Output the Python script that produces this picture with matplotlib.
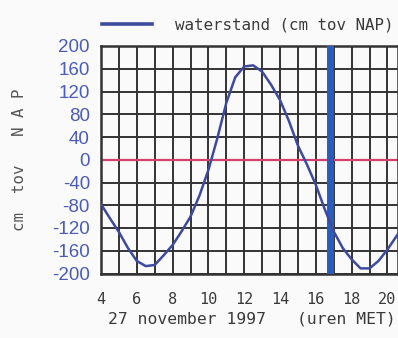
import matplotlib
matplotlib.use("Agg")
import matplotlib.pyplot as plt

hours = [4.0, 4.5, 5.0, 5.5, 6.0, 6.5, 7.0, 7.5, 8.0, 8.5, 9.0, 9.5, 10.0, 10.5,
         11.0, 11.5, 12.0, 12.5, 13.0, 13.5, 14.0, 14.5, 15.0, 15.5, 16.0, 16.5,
         17.0, 17.5, 18.0, 18.5, 19.0, 19.5, 20.0, 20.6]
waterstand = [-78, -103, -127, -155, -178, -187, -185, -168, -150, -126, -100, -63,
              -18, 38, 100, 145, 164, 166, 155, 132, 105, 68, 25, -8, -44, -87,
              -126, -155, -175, -191, -191, -178, -158, -130]
now_hour = 16.8
y_ticks = [200, 160, 120, 80, 40, 0, -40, -80, -120, -160, -200]
x_ticks = list(range(4, 21))
x_labels = [str(h) if h % 2 == 0 else "" for h in x_ticks]

W, H = 398, 338
fig = plt.figure(figsize=(W / 100, H / 100), dpi=100, facecolor="#fafafa")
ax = fig.add_axes([101 / W, (H - 273.5) / H, (W - 101) / W, 227.5 / H])
ax.set_facecolor("#fafafa")

mono = ["DejaVu Sans Mono"]
sans = ["Liberation Sans", "DejaVu Sans"]
grey = "#3a3a3a"

ax.set_xlim(4, 4 + 297 / 17.9)
ax.set_ylim(-200, 200)
ax.set_xticks(x_ticks)
ax.set_xticklabels(x_labels, family=mono, fontsize=11, color=grey)
ax.set_yticks(y_ticks)
ax.set_yticklabels([str(v) for v in y_ticks], family=sans, fontsize=13.5,
                   color="#4a5cb4")
ax.tick_params(length=0, pad=8)
ax.tick_params(axis="x", pad=13.5)
ax.grid(True, color="#333333", linewidth=1.4)
ax.set_axisbelow(True)
for s in ax.spines.values():
    s.set_color("#333333")
    s.set_linewidth(1.8)

ax.axhline(0, color="#d2426c", linewidth=1.6, zorder=2)
ax.axvline(now_hour, color="#2b5cbc", linewidth=5, zorder=3)
ax.plot(hours, waterstand, color="#3d4a9e", linewidth=1.8, zorder=4)

# legend
fig.add_artist(plt.Line2D([101.7 / W, 151.7 / W], [(H - 24) / H] * 2,
                          color="#3d4a9e", linewidth=2.6))
fig.text(175 / W, (H - 25) / H, "waterstand (cm tov NAP)", family=mono,
         fontsize=11.4, color=grey, ha="left", va="center")

fig.text(20 / W, (H - 160) / H, "cm  tov   N A P", family=mono, fontsize=11.3,
         color="#555555", rotation=90, ha="center", va="center")
fig.text(187.5 / W, (H - 319) / H, "27 november 1997", family=mono,
         fontsize=11.8, color=grey, ha="center", va="center")
fig.text(346 / W, (H - 319) / H, "(uren MET)", family=mono,
         fontsize=11.8, color=grey, ha="center", va="center")

fig.savefig("out.png", dpi=100, facecolor=fig.get_facecolor())
